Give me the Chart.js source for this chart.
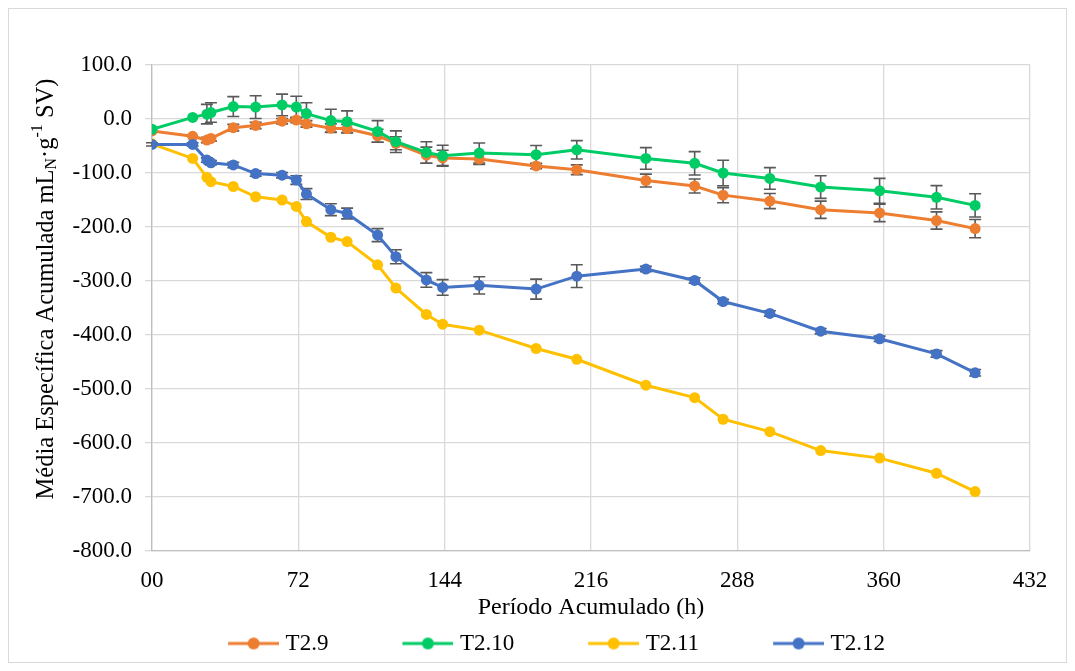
<!DOCTYPE html>
<html>
<head>
<meta charset="utf-8">
<script src="https://cdn.jsdelivr.net/npm/chart.js@4"></script>
<style>
  html, body { margin: 0; padding: 0; background: #fff; }
  #wrap { width: 1075px; height: 671px; }
</style>
</head>
<body>
<div id="wrap"><canvas id="chart" width="1075" height="671"></canvas></div>
<script>
// accumulated period (h)
const hours = [0, 20, 27, 29, 40, 51, 64, 71, 76, 88, 96, 111, 120, 135, 143, 161, 189, 209, 243, 267, 281, 304, 329, 358, 386, 405];

const t29 = [-22, -32, -39, -36, -16, -12, -4, -2, -9, -17, -18, -31, -45, -67, -72, -74, -87, -94, -114, -124, -141, -152, -168, -174, -188, -203];
const t210 = [-19, 3, 9, 12, 23, 22, 26, 22, 10, -3, -5, -23, -42, -62, -68, -63, -66, -57, -73, -82, -100, -110, -126, -133, -145, -160];
const t211 = [-46, -73, -108, -116, -125, -144, -150, -162, -190, -219, -227, -270, -313, -362, -380, -391, -425, -445, -493, -516, -556, -579, -614, -628, -656, -690];
const t212 = [-47, -47, -76, -81, -85, -101, -104, -113, -139, -168, -175, -215, -255, -298, -312, -308, -315, -291, -278, -299, -338, -360, -393, -407, -435, -470];

// standard deviations (error bars)
const err29 = [0, 0, 5, 5, 6, 6, 5, 5, 6, 8, 8, 12, 12, 15, 14, 10, 5, 9, 12, 13, 14, 14, 16, 16, 16, 17];
const err210 = [0, 0, 18, 18, 18.5, 21, 20, 20, 20, 21, 20, 20, 20, 20, 19.5, 18.5, 17, 17, 20, 21.6, 23.5, 20, 21, 23, 21.6, 21.6];
const err212 = [3, 3, 4, 4, 5, 5, 5, 8, 10, 11, 10, 12, 13, 13.5, 14.5, 16, 18.5, 21, 5, 5, 4, 5, 5, 5, 6, 6];

const seriesNames = ['T2.9', 'T2.10', 'T2.11', 'T2.12'];
const seriesColors = ['#ED7D31', '#00CC66', '#FFC000', '#4472C4'];

const FONT = "'Liberation Serif', 'Times New Roman', serif";

function pairs(vals) {
  return hours.map((h, i) => ({ x: h, y: vals[i] }));
}

// legend swatch: line with a dot
function swatch(color) {
  const c = document.createElement('canvas');
  c.width = 120; c.height = 16;
  const g = c.getContext('2d');
  g.strokeStyle = color;
  g.lineWidth = 3;
  g.beginPath(); g.moveTo(69, 8); g.lineTo(120, 8); g.stroke();
  g.fillStyle = color;
  g.beginPath(); g.arc(94.5, 8, 6, 0, Math.PI * 2); g.fill();
  return c;
}
const swatches = seriesColors.map(swatch);

const errorBars = {
  id: 'errorBars',
  beforeDatasetsDraw(chart) {
    const ctx = chart.ctx;
    const yScale = chart.scales.y;
    ctx.save();
    ctx.strokeStyle = '#595959';
    ctx.lineWidth = 1.6;
    chart.data.datasets.forEach((ds, i) => {
      if (!ds.errors) return;
      const meta = chart.getDatasetMeta(i);
      meta.data.forEach((pt, j) => {
        const e = ds.errors[j];
        if (!e) return;
        const v = ds.data[j].y;
        const yTop = yScale.getPixelForValue(v + e);
        const yBot = yScale.getPixelForValue(v - e);
        const x = pt.x;
        ctx.beginPath();
        ctx.moveTo(x, yTop); ctx.lineTo(x, yBot);
        ctx.moveTo(x - 6, yTop); ctx.lineTo(x + 6, yTop);
        ctx.moveTo(x - 6, yBot); ctx.lineTo(x + 6, yBot);
        ctx.stroke();
      });
    });
    ctx.restore();
  }
};

const frameAndTitle = {
  id: 'frameAndTitle',
  beforeDraw(chart) {
    const ctx = chart.ctx;
    ctx.save();
    ctx.fillStyle = '#fff';
    ctx.fillRect(0, 0, chart.width, chart.height);
    ctx.strokeStyle = '#d9d9d9';
    ctx.lineWidth = 1;
    ctx.strokeRect(8.5, 8.5, chart.width - 17, chart.height - 17);
    ctx.restore();
  },
  afterDraw(chart) {
    // y axis title with subscript / superscript
    const ctx = chart.ctx;
    const big = 24.5, small = 16;
    const parts = [
      { t: 'Média Específica Acumulada mL', s: big, dy: 0 },
      { t: 'N', s: small, dy: 5 },
      { t: '·g', s: big, dy: 0 },
      { t: '-1', s: small, dy: -9 },
      { t: ' SV)', s: big, dy: 0 }
    ];
    ctx.save();
    let total = 0;
    parts.forEach(p => {
      ctx.font = p.s + 'px ' + FONT;
      p.w = ctx.measureText(p.t).width;
      total += p.w;
    });
    ctx.translate(47, 289);
    ctx.rotate(-Math.PI / 2);
    ctx.fillStyle = '#000';
    ctx.textBaseline = 'middle';
    let x = -total / 2;
    parts.forEach(p => {
      ctx.font = p.s + 'px ' + FONT;
      ctx.fillText(p.t, x, p.dy);
      x += p.w;
    });
    ctx.restore();
  }
};

const datasets = [t29, t210, t211, t212].map((vals, i) => ({
  label: seriesNames[i],
  data: pairs(vals),
  errors: [err29, err210, null, err212][i],
  borderColor: seriesColors[i],
  backgroundColor: seriesColors[i],
  pointBackgroundColor: seriesColors[i],
  pointBorderColor: seriesColors[i],
  pointRadius: 5.5,
  pointBorderWidth: 0,
  borderWidth: 3,
  tension: 0,
  order: 3 - i
}));

new Chart(document.getElementById('chart'), {
  type: 'line',
  data: { datasets },
  options: {
    responsive: false,
    animation: false,
    events: [],
    layout: { padding: { left: 19, right: 45, top: 65, bottom: 6 } },
    plugins: {
      tooltip: { enabled: false },
      legend: {
        position: 'bottom',
        labels: {
          usePointStyle: true,
          pointStyleWidth: 110,
          padding: 10,
          color: '#000',
          font: { family: FONT, size: 23 },
          sort: (a, b) => a.datasetIndex - b.datasetIndex,
          generateLabels(chart) {
            const items = Chart.defaults.plugins.legend.labels.generateLabels(chart);
            items.forEach(it => { it.pointStyle = swatches[it.datasetIndex]; });
            return items;
          }
        }
      }
    },
    scales: {
      x: {
        type: 'linear',
        min: 0,
        max: 432,
        afterFit(scale) { scale.height = 71; },
        ticks: {
          stepSize: 72,
          padding: 16,
          color: '#000',
          font: { family: FONT, size: 23 },
          callback: v => (v === 0 ? '00' : String(v))
        },
        grid: { color: '#d9d9d9', lineWidth: 1.3, drawTicks: false },
        border: { color: '#bfbfbf', width: 1.3 },
        title: {
          display: true,
          text: 'Período Acumulado (h)',
          color: '#000',
          font: { family: FONT, size: 24 },
          padding: { top: 0, bottom: 0 }
        }
      },
      y: {
        min: -800,
        max: 100,
        afterFit(scale) { scale.width = 133; },
        ticks: {
          stepSize: 100,
          padding: 13,
          color: '#000',
          font: { family: FONT, size: 23 },
          callback: v => v.toFixed(1)
        },
        grid: { color: '#d9d9d9', lineWidth: 1.3, tickLength: 7 },
        border: { color: '#bfbfbf', width: 1.3 }
      }
    }
  },
  plugins: [frameAndTitle, errorBars]
});
</script>
</body>
</html>
